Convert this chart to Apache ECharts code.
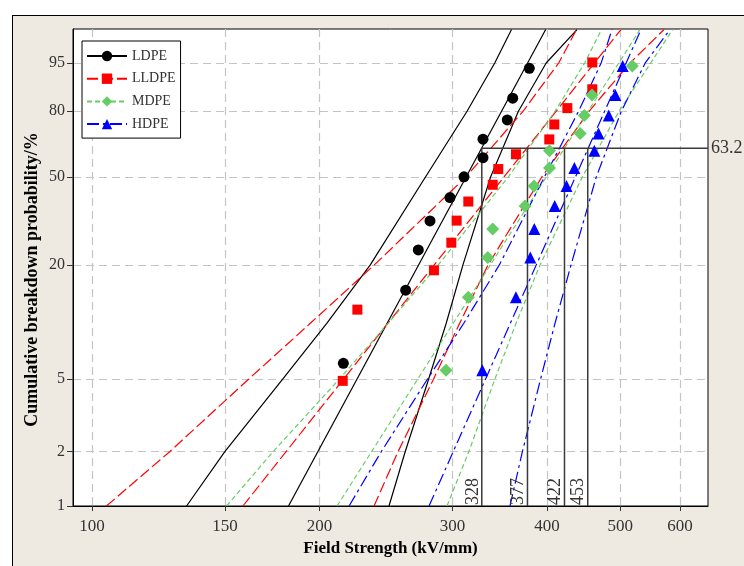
<!DOCTYPE html>
<html>
<head>
<meta charset="utf-8">
<script src="https://cdn.jsdelivr.net/npm/echarts@6/dist/echarts.min.js"></script>
<style>
html,body{margin:0;padding:0;background:#fff;overflow:hidden;}
#frame{position:absolute;left:12px;top:15px;width:800px;height:600px;background:#EEEAE1;border:1.5px solid #000;}
#c{position:absolute;left:0;top:0;width:744px;height:566px;}
</style>
</head>
<body>
<div id="frame"></div>
<div id="c"></div>
<script>
// ---------- data (kV/mm and cumulative probability in %) ----------
const percentN11 = [6.1, 14.9, 23.7, 32.5, 41.2, 50.0, 58.8, 67.5, 76.3, 85.1, 93.9];
const percentN12 = [5.6, 13.7, 21.8, 29.8, 37.9, 46.0, 54.0, 62.1, 70.2, 78.2, 86.3, 94.4];
const percentN14 = [4.9, 11.8, 18.8, 25.7, 32.6, 39.6, 46.5, 53.5, 60.4, 67.4, 74.3, 81.3, 88.2, 95.1];

const ldpeField  = [215.1, 260.1, 270.3, 280.1, 297.7, 310.7, 329.2, 329.2, 354.5, 360.4, 379.1];
const lldpeField = [214.7, 224.5, 283.5, 298.9, 303.8, 314.8, 339.1, 344.9, 364.0, 402.9, 409.1, 425.7, 459.3, 459.3];
const mdpeField  = [294.1, 314.8, 334.0, 339.1, 374.2, 384.6, 403.2, 403.2, 442.7, 448.3, 458.9, 518.9];
const hdpeField  = [328.5, 364.0, 380.3, 384.9, 409.6, 424.6, 434.9, 462.2, 468.1, 482.9, 492.7, 503.9];

// fitted Weibull lines: field strength at 1 % and 99 %
const fitLevels = [1, 99];
const ldpeFit  = [182.0, 398.5];
const lldpeFit = [158.4, 501.3];
const mdpeFit  = [211.0, 531.2];
const hdpeFit  = [279.3, 532.8];

// confidence bounds: field strength at these probability levels
const boundLevels = [1, 2, 5, 10, 20, 50, 80, 95, 99];
const ldpeLower  = [133.4, 149.9, 178.7, 204.5, 233.5, 276.4, 313.6, 341.2, 359.1];
const ldpeUpper  = [247.2, 259.7, 278.9, 294.3, 309.7, 337.0, 366.7, 399.1, 438.4];
const lldpeLower = [104.5, 126.7, 161.1, 194.5, 236.4, 312.6, 371.9, 414.6, 437.8];
const lldpeUpper = [236.2, 254.1, 283.1, 306.6, 334.3, 394.0, 454.8, 515.3, 571.5];
const mdpeLower  = [150.7, 173.6, 212.4, 246.6, 287.3, 355.7, 410.0, 448.8, 472.4];
const mdpeUpper  = [295.0, 315.3, 341.3, 364.1, 391.7, 445.7, 498.3, 548.8, 586.8];
const hdpeLower  = [218.9, 241.4, 277.9, 310.5, 346.0, 397.1, 440.5, 471.9, 487.8];
const hdpeUpper  = [357.4, 371.2, 392.3, 410.0, 430.5, 465.0, 501.8, 539.7, 582.0];

// characteristic breakdown strengths (63.2 %)
const scaleValues = [328, 377, 422, 453];
const scaleProbability = 63.2;

// tick labels
const xTicks = [100, 150, 200, 300, 400, 500, 600];
const yTicks = [1, 2, 5, 20, 50, 80, 95];
const seriesNames = ['LDPE', 'LLDPE', 'MDPE', 'HDPE'];

// ---------- Weibull paper transforms ----------
const lg = v => Math.log10(v);
const wb = p => Math.log(-Math.log(1 - p / 100));
const X_MIN = 1.97485, X_MAX = 2.81525;
const Y_MIN = wb(1), Y_MAX = 1.5342;
const FONT = 'Liberation Serif';

const materials = [
  {name: seriesNames[0], field: ldpeField,  pct: percentN11, fit: ldpeFit,  lo: ldpeLower,  hi: ldpeUpper,  color: '#000000', symbol: 'circle',   size: 11, dash: 'solid'},
  {name: seriesNames[1], field: lldpeField, pct: percentN14, fit: lldpeFit, lo: lldpeLower, hi: lldpeUpper, color: '#FF0000', symbol: 'rect',     size: 10, dash: [11, 4]},
  {name: seriesNames[2], field: mdpeField,  pct: percentN12, fit: mdpeFit,  lo: mdpeLower,  hi: mdpeUpper,  color: '#66CC66', symbol: 'diamond',  size: 13, dash: [5, 3]},
  {name: seriesNames[3], field: hdpeField,  pct: percentN12, fit: hdpeFit,  lo: hdpeLower,  hi: hdpeUpper,  color: '#0000FF', symbol: 'triangle', size: 12, dash: [12, 4, 3, 4]}
];

const series = [];
materials.forEach(m => {
  const ls = {color: m.color, width: 1.2, type: m.dash};
  series.push({
    type: 'line', name: m.name, symbol: m.symbol, showSymbol: false, silent: true,
    itemStyle: {color: m.color}, lineStyle: ls, z: 3,
    data: fitLevels.map((p, i) => [lg(m.fit[i]), wb(p)])
  });
  [m.lo, m.hi].forEach(arr => {
    series.push({
      type: 'line', name: m.name, symbol: 'none', silent: true, smooth: false,
      itemStyle: {color: m.color}, lineStyle: ls, z: 3,
      data: boundLevels.map((p, i) => [lg(arr[i]), wb(p)])
    });
  });
  series.push({
    type: 'scatter', name: m.name, symbol: m.symbol, symbolSize: m.size, silent: true,
    itemStyle: {color: m.color, opacity: 1}, z: 5,
    data: m.field.map((v, i) => [lg(v), wb(m.pct[i])])
  });
});

const refStyle = {color: '#3a3a3a', width: 1.5};
series.push({
  type: 'line', name: 'ref', symbol: 'circle', symbolSize: 0.01, showSymbol: true, silent: true, clip: false,
  lineStyle: refStyle, itemStyle: {color: '#3a3a3a'}, z: 4,
  data: [
    [lg(scaleValues[0]), wb(scaleProbability)],
    {value: [X_MAX, wb(scaleProbability)],
     label: {show: true, position: 'right', distance: 3, formatter: String(scaleProbability),
             fontFamily: FONT, fontSize: 18, color: '#333'}}
  ]
});
scaleValues.forEach(v => {
  series.push({
    type: 'line', name: 'ref', symbol: 'circle', symbolSize: 0.01, showSymbol: true, silent: true, clip: false,
    lineStyle: refStyle, itemStyle: {color: '#3a3a3a'}, z: 4,
    data: [
      [lg(v), wb(scaleProbability)],
      {value: [lg(v), wb(1)],
       label: {show: true, position: 'top', distance: 1, rotate: 90, align: 'left', verticalAlign: 'bottom',
               formatter: String(v), fontFamily: FONT, fontSize: 18, color: '#333'}}
    ]
  });
});

const chart = echarts.init(document.getElementById('c'), null, {renderer: 'canvas'});
chart.setOption({
  animation: false,
  backgroundColor: 'transparent',
  grid: {left: 73, right: 36, top: 29, bottom: 60, show: true, backgroundColor: '#fff',
         borderColor: '#000', borderWidth: 1, containLabel: false, outerBoundsMode: 'none'},
  legend: {
    data: seriesNames, orient: 'vertical', left: 82, top: 41,
    itemWidth: 40, itemHeight: 13, itemGap: 8.7,
    padding: [8, 5, 7, 4], backgroundColor: '#fff', borderColor: '#000', borderWidth: 1,
    selectedMode: false,
    textStyle: {fontFamily: FONT, fontSize: 14, color: '#333'}
  },
  xAxis: {
    type: 'value', min: X_MIN, max: X_MAX,
    name: 'Field Strength (kV/mm)', nameLocation: 'middle', nameGap: 34, nameMoveOverlap: false,
    nameTextStyle: {fontFamily: FONT, fontSize: 17, fontWeight: 'bold', color: '#000'},
    axisLine: {show: true, onZero: false, lineStyle: {color: '#000', width: 1}},
    axisTick: {show: true, customValues: xTicks.map(lg), length: 5, lineStyle: {color: '#333'}},
    axisLabel: {customValues: xTicks.map(lg), formatter: v => String(Math.round(Math.pow(10, v))),
                fontFamily: FONT, fontSize: 17, color: '#333', margin: 12},
    splitLine: {show: true, lineStyle: {color: '#c4c4c4', width: 1.2, type: [8, 5]}}
  },
  yAxis: {
    type: 'value', min: Y_MIN, max: Y_MAX,
    name: 'Cumulative breakdown probability/%', nameLocation: 'middle', nameGap: 32, nameMoveOverlap: false,
    nameTextStyle: {fontFamily: FONT, fontSize: 18, fontWeight: 'bold', color: '#000', padding: [0, 24, 0, 0]},
    axisLine: {show: true, onZero: false, lineStyle: {color: '#000', width: 1}},
    axisTick: {show: true, customValues: yTicks.map(wb), length: 6, lineStyle: {color: '#333'}},
    axisLabel: {customValues: yTicks.map(wb),
                formatter: v => String(Math.round((1 - Math.exp(-Math.exp(v))) * 100)),
                fontFamily: FONT, fontSize: 16, color: '#333', margin: 8},
    splitLine: {show: true, lineStyle: {color: '#c4c4c4', width: 1.2, type: [8, 5]}}
  },
  series: series
});
</script>
</body>
</html>
